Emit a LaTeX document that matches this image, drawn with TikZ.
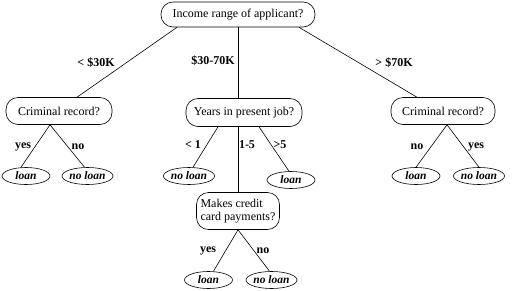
\documentclass[tikz,border=0pt]{standalone}
\usepackage{fontspec}
\setmainfont{Liberation Serif}
\usetikzlibrary{shapes.geometric,calc}
\begin{document}
\begin{tikzpicture}[x=1pt,y=-1pt,line width=0.6pt,
  qbox/.style={draw, rounded corners=12pt, inner sep=0pt, font=\fontsize{12}{13}\selectfont},
  leaf/.style={draw, ellipse, inner sep=0pt, minimum width=48pt, minimum height=17pt, font=\fontsize{11.5}{12}\selectfont\bfseries\itshape},
  elab/.style={font=\fontsize{12}{14}\selectfont\bfseries, inner sep=0pt}]
\useasboundingbox (0,0) rectangle (512,290);
% question nodes
\node[qbox, minimum width=154pt, minimum height=25pt] (root) at (238,14.5) {Income range of applicant?};
\node[qbox, minimum width=106pt, minimum height=27pt] (crimL) at (59,111) {Criminal record?};
\node[qbox, minimum width=116pt, minimum height=28pt] (years) at (244,112.5) {Years in present job?};
\node[qbox, minimum width=104pt, minimum height=27pt] (crimR) at (443,111) {Criminal record?};
\node[qbox, minimum width=83pt, minimum height=37pt, align=left] (credit) at (238,211) {Makes credit\\card payments?};
% leaves
\node[leaf] (l1) at (26,176) {loan};
\node[leaf] (l2) at (87.5,176) {no loan};
\node[leaf] (l3) at (189,176) {no loan};
\node[leaf] (l4) at (291,180) {loan};
\node[leaf] (l5) at (416,176) {loan};
\node[leaf] (l6) at (479,176) {no loan};
\node[leaf] (l7) at (208.5,280) {loan};
\node[leaf] (l8) at (271.5,280) {no loan};
% connectors
\draw ($(root.south)+(-61,0)$) -- ($(crimL.north)+(18,0)$);
\draw (root.south) -- ($(years.north)+(-6,0)$);
\draw ($(root.south)+(61,0)$) -- ($(crimR.north)+(-26,0)$);
\draw ($(crimL.south)+(-9,0)$) -- ($(l1.north)+(-5,0)$);
\draw ($(crimL.south)+(-9,0)$) -- ($(l2.north)+(-3,0)$);
\draw ($(years.south)+(-26,0)$) -- ($(l3.north)+(4,0)$);
\draw ($(years.south)+(-6,0)$) -- (credit.north);
\draw ($(years.south)+(15,0)$) -- ($(l4.north)+(-2,0)$);
\draw ($(crimR.south)+(4,0)$) -- (l5.north);
\draw ($(crimR.south)+(4,0)$) -- (l6.north);
\draw (credit.south) -- ($(l7.north)+(5,0)$);
\draw (credit.south) -- ($(l8.north)+(-2,0)$);
% edge labels
\node[elab] (e1) at (96,63) {< \$30K};
\node[elab] (e2) at (213,61) {\$30-70K};
\node[elab] (e3) at (394,63) {> \$70K};
\node[elab] (e4) at (23,147) {yes};
\node[elab] (e5) at (78,147) {no};
\node[elab] (e6) at (193,145) {< 1};
\node[elab] (e7) at (247,145) {1-5};
\node[elab] (e8) at (280,145) {>5};
\node[elab] (e9) at (417,147) {no};
\node[elab] (e10) at (476,147) {yes};
\node[elab] (e11) at (208,251) {yes};
\node[elab] (e12) at (263,251) {no};
\end{tikzpicture}
\end{document}
